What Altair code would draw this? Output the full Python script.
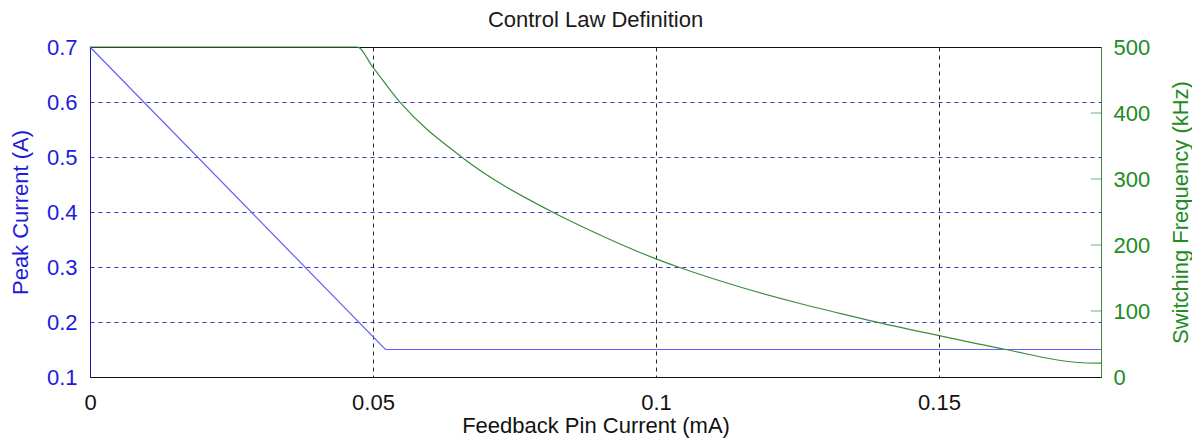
import altair as alt
import pandas as pd

# ---- data ----
x_blue = [0.0, 0.0522, 0.17862]
peak_current = [0.70, 0.15, 0.15]

x_green = [0.0, 0.0472, 0.0500, 0.0548, 0.0657, 0.0817, 0.0884, 0.1000,
           0.1038, 0.1150, 0.1256, 0.1327, 0.1380, 0.1504, 0.1616, 0.1745, 0.17862]
switch_freq = [500, 500, 469, 416, 333, 250, 222, 179,
               167, 136, 111, 96, 85, 62, 42, 22, 21]

x_ticks = [0, 0.05, 0.1, 0.15]
current_ticks = [0.1, 0.2, 0.3, 0.4, 0.5, 0.6, 0.7]
freq_ticks = [0, 100, 200, 300, 400, 500]
freq_inner_ticks = [100, 200, 300, 400]

X_MAX = 0.17862

FONT = "Liberation Sans, Arial, sans-serif"
BLUE_TXT = "#1c1cdc"
BLUE_LINE = "#6262f4"
GREEN_TXT = "#228b22"
GREEN_LINE = "#3c8c3c"

df_blue = pd.DataFrame({"x": x_blue, "i": peak_current})
df_green = pd.DataFrame({"x": x_green, "f": switch_freq})
df_ticks = pd.DataFrame({"x": [X_MAX] * len(freq_inner_ticks), "f": freq_inner_ticks})

xscale = alt.Scale(domain=[0, X_MAX], nice=False, zero=False)
x_axis = alt.Axis(
    title="Feedback Pin Current (mA)", values=x_ticks, format="~g",
    labelFontSize=22, labelColor="#111111", labelPadding=15, labelFlush=False,
    ticks=False, domainColor="#111111",
    grid=True, gridColor="#222222", gridDash=[4, 4], gridWidth=1,
    gridOpacity={"condition": {"test": "datum.value <= 0", "value": 0}, "value": 1},
    titleFontSize=22, titleFontWeight="normal", titleColor="#111111", titlePadding=2,
)
x_enc = alt.X("x:Q", scale=xscale, axis=x_axis)

blue = alt.Chart(df_blue).mark_line(color=BLUE_LINE, strokeWidth=1.2).encode(
    x=x_enc,
    y=alt.Y(
        "i:Q",
        scale=alt.Scale(domain=[0.1, 0.7], nice=False, zero=False),
        axis=alt.Axis(
            orient="left", title="Peak Current (A)", values=current_ticks, format=".1f",
            labelFontSize=22, labelColor=BLUE_TXT, labelPadding=13, labelFlush=False,
            ticks=False, domainColor="#1a1aa0",
            grid=True, gridColor="#3535c8", gridDash=[4, 4], gridWidth=1,
            gridOpacity={"condition": {"test": "datum.value <= 0.1 || datum.value >= 0.7", "value": 0}, "value": 1},
            titleFontSize=22, titleFontWeight="normal", titleColor=BLUE_TXT, titlePadding=14,
        ),
    ),
)

y_green = alt.Y(
    "f:Q",
    scale=alt.Scale(domain=[0, 500], nice=False, zero=False),
    axis=alt.Axis(
        orient="right", title="Switching Frequency (kHz)", values=freq_ticks,
        labelFontSize=22, labelColor=GREEN_TXT, labelPadding=12, labelFlush=False,
        ticks=False, domainColor=GREEN_LINE, grid=False,
        titleFontSize=22, titleFontWeight="normal", titleColor=GREEN_TXT,
        titleAngle=270, titleBaseline="top", titlePadding=21,
    ),
)

green_line = alt.Chart(df_green).mark_line(
    color=GREEN_LINE, strokeWidth=1.2, interpolate="monotone"
).encode(x=x_enc, y=y_green)

inner_ticks = alt.Chart(df_ticks).mark_tick(
    orient="horizontal", color=GREEN_LINE, size=10, thickness=1, xOffset=-5
).encode(x=x_enc, y=y_green)

right = alt.layer(green_line, inner_ticks)

chart = (
    alt.layer(blue, right)
    .resolve_scale(y="independent")
    .properties(
        width=1011,
        height=330,
        autosize=alt.AutoSizeParams(type="none"),
        padding={"left": 82, "top": 39, "right": 91, "bottom": 64},
        title=alt.TitleParams(
            "Control Law Definition", fontSize=22, font=FONT, fontWeight="normal",
            color="#1a1a1a", anchor="middle", offset=4,
        ),
    )
    .configure(font=FONT)
    .configure_view(stroke="#111111", strokeWidth=1)
    .configure_axis(labelFont=FONT, titleFont=FONT)
)

chart.save("out.html", embed_options={"renderer": "svg", "actions": False})
